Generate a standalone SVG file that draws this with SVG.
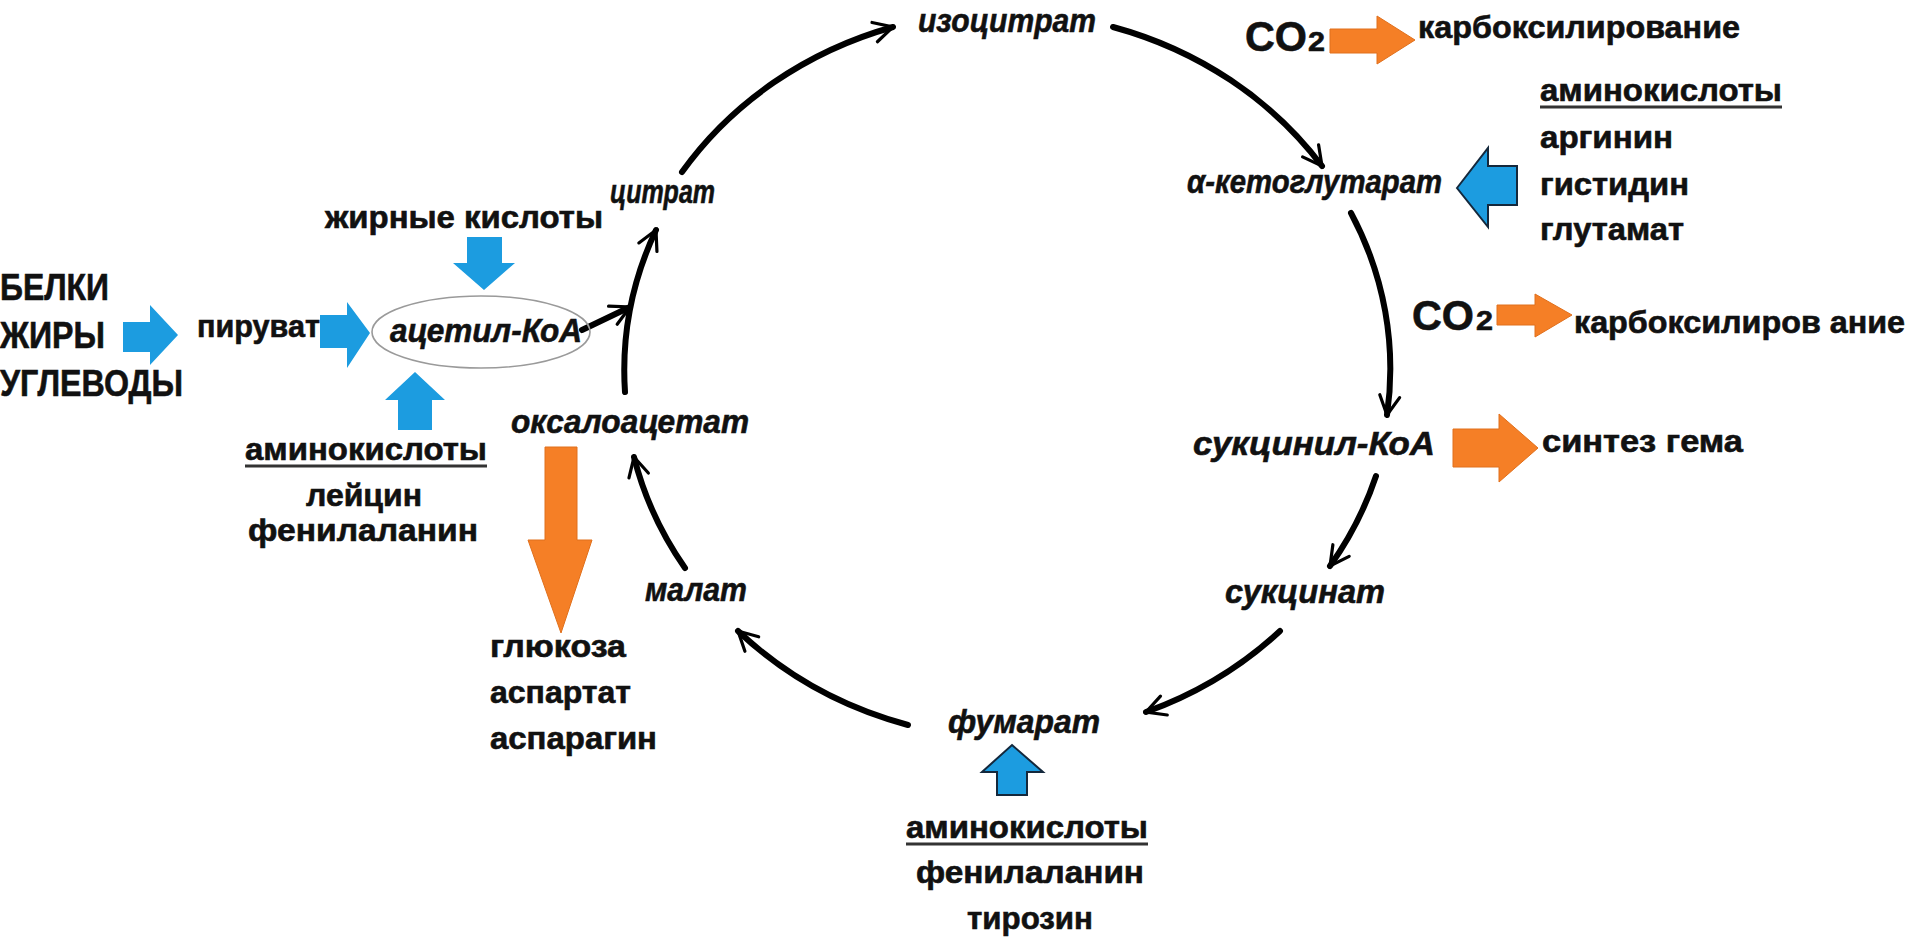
<svg xmlns="http://www.w3.org/2000/svg" width="1915" height="939" viewBox="0 0 1915 939">
<style>
.t{font-family:"Liberation Sans",Arial,sans-serif;font-weight:bold;font-size:31px;fill:#111;stroke:#111;stroke-width:0.6}
.big{font-size:37px}
.it{font-style:italic;font-size:34px}
.co{font-size:42px}
.sub{font-size:27px}
.blue{fill:#1c9ce0}
.bo{fill:#1c9ce0;stroke:#14283c;stroke-width:2;stroke-linejoin:miter}
.or{fill:#f57f26;stroke:#e0701c;stroke-width:1}
.cyc{fill:none;stroke:#000;stroke-width:6;stroke-linecap:round}
.ul{stroke:#333;stroke-width:3}
</style>
<defs>
<marker id="ah" markerUnits="userSpaceOnUse" markerWidth="26" markerHeight="26" viewBox="0 0 26 26" refX="23" refY="13" orient="auto">
<path d="M4,3 L23,13 L4,23" fill="none" stroke="#000" stroke-width="3.2" stroke-linecap="round" stroke-linejoin="miter"/>
</marker>
</defs>
<rect width="1915" height="939" fill="#fff"/>

<g id="connectors">
<path class="cyc" d="M625,392 A388,355 0 0 1 656,230" marker-end="url(#ah)"/>
<path class="cyc" d="M682,172 A388,355 0 0 1 893,27" marker-end="url(#ah)"/>
<path class="cyc" d="M1113,27 A388,355 0 0 1 1322,166" marker-end="url(#ah)"/>
<path class="cyc" d="M1351,213 A388,355 0 0 1 1387,415" marker-end="url(#ah)"/>
<path class="cyc" d="M1376,476 A388,355 0 0 1 1330,566" marker-end="url(#ah)"/>
<path class="cyc" d="M1280,631 A388,355 0 0 1 1146,712" marker-end="url(#ah)"/>
<path class="cyc" d="M908,725 A388,355 0 0 1 738,631" marker-end="url(#ah)"/>
<path class="cyc" d="M685,568 A388,355 0 0 1 634,457" marker-end="url(#ah)"/>
<path class="cyc" d="M582,330 L630,307" marker-end="url(#ah)"/>
</g>

<g id="sources">
<text class="t big" x="0" y="300" textLength="109" lengthAdjust="spacingAndGlyphs">БЕЛКИ</text>
<text class="t big" x="0" y="348" textLength="105" lengthAdjust="spacingAndGlyphs">ЖИРЫ</text>
<text class="t big" x="0" y="396" textLength="183" lengthAdjust="spacingAndGlyphs">УГЛЕВОДЫ</text>
<polygon class="blue" points="123,322 150,322 150,305 178,335 150,365 150,352 123,352"/>
</g>

<g id="pyruvate">
<text class="t" x="197" y="337" textLength="123" lengthAdjust="spacingAndGlyphs">пируват</text>
<polygon class="blue" points="320,315 347,315 347,302 370,333 347,368 347,348 320,348"/>
</g>

<g id="fatty-acids">
<text class="t" x="325" y="228" textLength="278" lengthAdjust="spacingAndGlyphs">жирные кислоты</text>
<polygon class="blue" points="467,237 502,237 502,263 515,263 484,290 453,263 467,263"/>
</g>

<g id="acetyl-coa">
<ellipse cx="481" cy="332" rx="109" ry="36" fill="none" stroke="#9a9a9a" stroke-width="1.6"/>
<text class="t it" x="390" y="342" textLength="192" lengthAdjust="spacingAndGlyphs">ацетил-КоА</text>
</g>

<g id="amino-left">
<polygon class="blue" points="415,372 445,400 432,400 432,430 398,430 398,400 385,400"/>
<text class="t" x="245" y="460" textLength="242" lengthAdjust="spacingAndGlyphs">аминокислоты</text>
<line class="ul" x1="245" y1="466" x2="487" y2="466"/>
<text class="t" x="306" y="506" textLength="116" lengthAdjust="spacingAndGlyphs">лейцин</text>
<text class="t" x="248" y="541" textLength="230" lengthAdjust="spacingAndGlyphs">фенилаланин</text>
</g>

<g id="citrate"><text class="t it" x="610" y="203" textLength="105" lengthAdjust="spacingAndGlyphs">цитрат</text></g>
<g id="isocitrate"><text class="t it" x="918" y="32" textLength="178" lengthAdjust="spacingAndGlyphs">изоцитрат</text></g>
<g id="ketoglutarate"><text class="t it" x="1187" y="193" textLength="255" lengthAdjust="spacingAndGlyphs">α-кетоглутарат</text></g>
<g id="succinyl-coa"><text class="t it" x="1193" y="455" textLength="242" lengthAdjust="spacingAndGlyphs">сукцинил-КоА</text></g>
<g id="succinate"><text class="t it" x="1225" y="603" textLength="160" lengthAdjust="spacingAndGlyphs">сукцинат</text></g>
<g id="fumarate"><text class="t it" x="948" y="733" textLength="152" lengthAdjust="spacingAndGlyphs">фумарат</text></g>
<g id="malate"><text class="t it" x="645" y="601" textLength="102" lengthAdjust="spacingAndGlyphs">малат</text></g>
<g id="oxaloacetate"><text class="t it" x="511" y="433" textLength="238" lengthAdjust="spacingAndGlyphs">оксалоацетат</text></g>

<g id="gluconeo">
<polygon class="or" points="545,447 577,447 577,540 592,540 561,633 528,540 545,540"/>
<text class="t" x="490" y="657" textLength="136" lengthAdjust="spacingAndGlyphs">глюкоза</text>
<text class="t" x="490" y="703" textLength="141" lengthAdjust="spacingAndGlyphs">аспартат</text>
<text class="t" x="490" y="749" textLength="167" lengthAdjust="spacingAndGlyphs">аспарагин</text>
</g>

<g id="co2-top">
<text class="t co" x="1245" y="51" textLength="62" lengthAdjust="spacingAndGlyphs">CO</text>
<text class="t sub" x="1308" y="51" textLength="17" lengthAdjust="spacingAndGlyphs">2</text>
<polygon class="or" points="1330,29 1377,29 1377,16 1415,40 1377,64 1377,53 1330,53"/>
<text class="t" x="1418" y="38" textLength="322" lengthAdjust="spacingAndGlyphs">карбоксилирование</text>
</g>

<g id="amino-right">
<text class="t" x="1540" y="101" textLength="242" lengthAdjust="spacingAndGlyphs">аминокислоты</text>
<line class="ul" x1="1540" y1="107" x2="1782" y2="107"/>
<text class="t" x="1540" y="148" textLength="133" lengthAdjust="spacingAndGlyphs">аргинин</text>
<text class="t" x="1540" y="195" textLength="149" lengthAdjust="spacingAndGlyphs">гистидин</text>
<text class="t" x="1540" y="240" textLength="144" lengthAdjust="spacingAndGlyphs">глутамат</text>
<polygon class="bo" points="1457,188 1488,148 1488,166 1517,166 1517,205 1488,205 1488,227"/>
</g>

<g id="co2-second">
<text class="t co" x="1412" y="330" textLength="62" lengthAdjust="spacingAndGlyphs">CO</text>
<text class="t sub" x="1476" y="330" textLength="17" lengthAdjust="spacingAndGlyphs">2</text>
<polygon class="or" points="1497,305 1535,305 1535,294 1572,315 1535,337 1535,325 1497,325"/>
<text class="t" x="1574" y="333" textLength="331" lengthAdjust="spacingAndGlyphs">карбоксилиров ание</text>
</g>

<g id="heme">
<polygon class="or" points="1453,429 1499,429 1499,414 1538,448 1499,482 1499,467 1453,467"/>
<text class="t" x="1542" y="452" textLength="201" lengthAdjust="spacingAndGlyphs">синтез гема</text>
</g>

<g id="amino-bottom">
<polygon class="bo" points="1012,745 1043,772 1027,772 1027,795 997,795 997,772 982,772"/>
<text class="t" x="906" y="838" textLength="242" lengthAdjust="spacingAndGlyphs">аминокислоты</text>
<line class="ul" x1="906" y1="844" x2="1148" y2="844"/>
<text class="t" x="916" y="883" textLength="228" lengthAdjust="spacingAndGlyphs">фенилаланин</text>
<text class="t" x="967" y="929" textLength="126" lengthAdjust="spacingAndGlyphs">тирозин</text>
</g>
</svg>
